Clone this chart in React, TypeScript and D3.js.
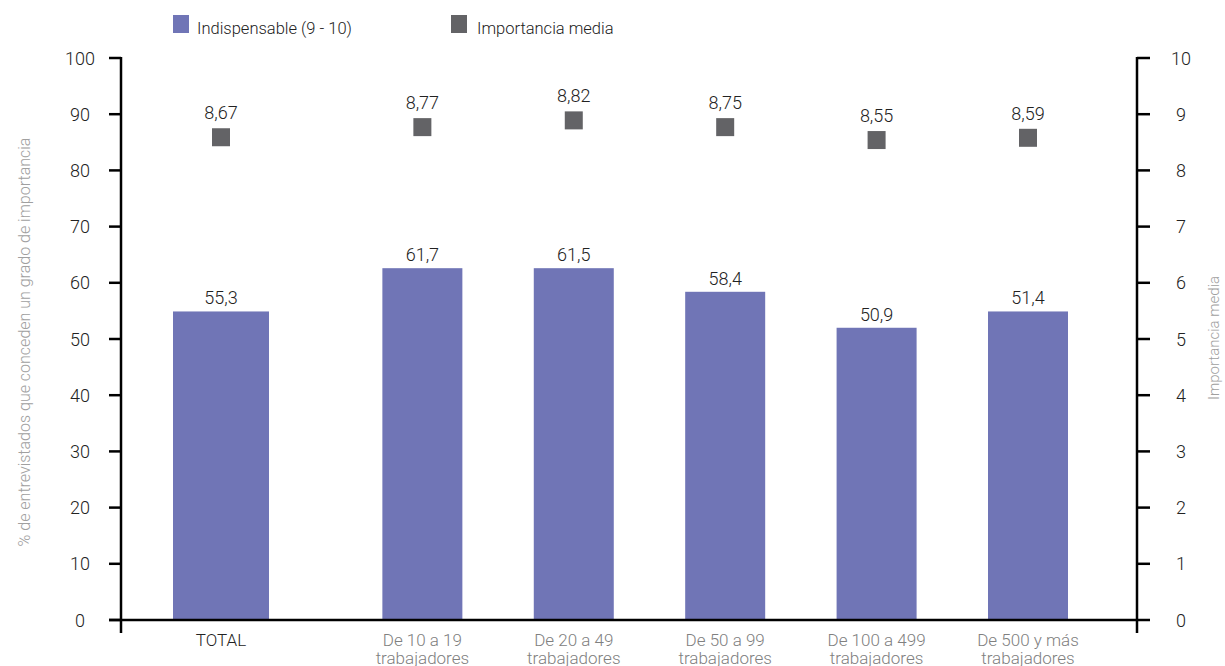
import React from "react";
import * as d3 from "d3";

const categories = ["TOTAL", "De 10 a 19|trabajadores", "De 20 a 49|trabajadores", "De 50 a 99|trabajadores", "De 100 a 499|trabajadores", "De 500 y más|trabajadores"];
// printed labels
const pctLabels = [55.3, 61.7, 61.5, 58.4, 50.9, 51.4];
const meanLabels = [8.67, 8.77, 8.82, 8.75, 8.55, 8.59];
// heights as drawn in the picture
const pctBars = [54.9, 62.6, 62.6, 58.4, 52.0, 54.9];
const meanMarks = [8.59, 8.77, 8.89, 8.77, 8.54, 8.58];
const leftTicks = [0, 10, 20, 30, 40, 50, 60, 70, 80, 90, 100];
const rightTicks = [0, 1, 2, 3, 4, 5, 6, 7, 8, 9, 10];
const slots = [0, 1.33, 2.33, 3.33, 4.33, 5.33];
const legendItems = ["Indispensable (9 - 10)", "Importancia media"];

const W = 1225;
const H = 666;
const FONT = "Roboto, 'Liberation Sans', Arial, sans-serif";
const BAR = "#7075b6";
const SQ = "#636366";

const fmt = (v: number, d: number) => v.toFixed(d).replace(".", ",");

export default function App() {
  const left = 121;
  const right = 1137;
  const yL = d3.scaleLinear().domain([0, 100]).range([620, 58]);
  const yR = d3.scaleLinear().domain([0, 10]).range([620, 58]);
  const x = d3.scaleLinear().domain([0, 5.33]).range([221, 1028]);
  const bw = (i: number) => (i === 0 ? 96 : 80);
  const sq = 18;

  return (
    <svg width={W} height={H} style={{ position: "absolute", left: 0, top: 0, background: "#fff" }} fontFamily={FONT} fontWeight={300}>
      {/* legend */}
      <rect x={173} y={15} width={16} height={18} fill={BAR} />
      <text x={197} y={34} fontSize={16.5} fill="#222">{legendItems[0]}</text>
      <rect x={451} y={15} width={16} height={18} fill={SQ} />
      <text x={477} y={34} fontSize={16.5} fill="#222">{legendItems[1]}</text>

      {/* bars */}
      {pctBars.map((v, i) => (
        <g key={"b" + i}>
          <rect x={x(slots[i]) - bw(i) / 2} y={yL(v)} width={bw(i)} height={yL(0) - yL(v)} fill={BAR} />
          <text x={x(slots[i])} y={yL(v) - 7} textAnchor="middle" fontSize={18} fill="#222">{fmt(pctLabels[i], 1)}</text>
        </g>
      ))}

      {/* squares */}
      {meanMarks.map((v, i) => (
        <g key={"s" + i}>
          <rect x={x(slots[i]) - sq / 2} y={yR(v) - sq / 2} width={sq} height={sq} fill={SQ} />
          <text x={x(slots[i])} y={yR(v) - sq / 2 - 9} textAnchor="middle" fontSize={18} fill="#222">{fmt(meanLabels[i], 2)}</text>
        </g>
      ))}

      {/* left axis */}
      <line x1={left} x2={left} y1={yL(100) - 1} y2={633} stroke="#000" strokeWidth={2.5} />
      {leftTicks.map((t) => (
        <g key={"lt" + t}>
          <line x1={109} x2={left} y1={yL(t)} y2={yL(t)} stroke="#000" strokeWidth={2.5} />
          <text x={80} y={yL(t) + 6.5} textAnchor="middle" fontSize={18} fill="#222">{t}</text>
        </g>
      ))}
      {/* x axis */}
      <line x1={109} x2={right} y1={yL(0)} y2={yL(0)} stroke="#000" strokeWidth={2.5} />
      {/* right axis */}
      <line x1={right} x2={right} y1={yR(10) - 1} y2={633} stroke="#000" strokeWidth={2.5} />
      {rightTicks.map((t) => (
        <g key={"rt" + t}>
          <line x1={right} x2={1150} y1={yR(t)} y2={yR(t)} stroke="#000" strokeWidth={2.5} />
          <text x={1181} y={yR(t) + 6.5} textAnchor="middle" fontSize={18} fill="#222">{t}</text>
        </g>
      ))}

      {/* category labels */}
      {categories.map((c, i) => {
        const parts = c.split("|");
        return (
          <text key={"c" + i} x={x(slots[i])} y={646} textAnchor="middle" fontSize={17} fill={i === 0 ? "#222" : "#808080"}>
            {parts.map((p, j) => (
              <tspan key={j} x={x(slots[i])} dy={j === 0 ? 0 : 18}>{p}</tspan>
            ))}
          </text>
        );
      })}

      {/* axis titles */}
      <text transform={`translate(30, 342) rotate(-90)`} textAnchor="middle" fontSize={16} fill="#a0a0a0">
        % de entrevistados que conceden un grado de importancia
      </text>
      <text transform={`translate(1219, 338) rotate(-90)`} textAnchor="middle" fontSize={15} fill="#a0a0a0">
        Importancia media
      </text>
    </svg>
  );
}
